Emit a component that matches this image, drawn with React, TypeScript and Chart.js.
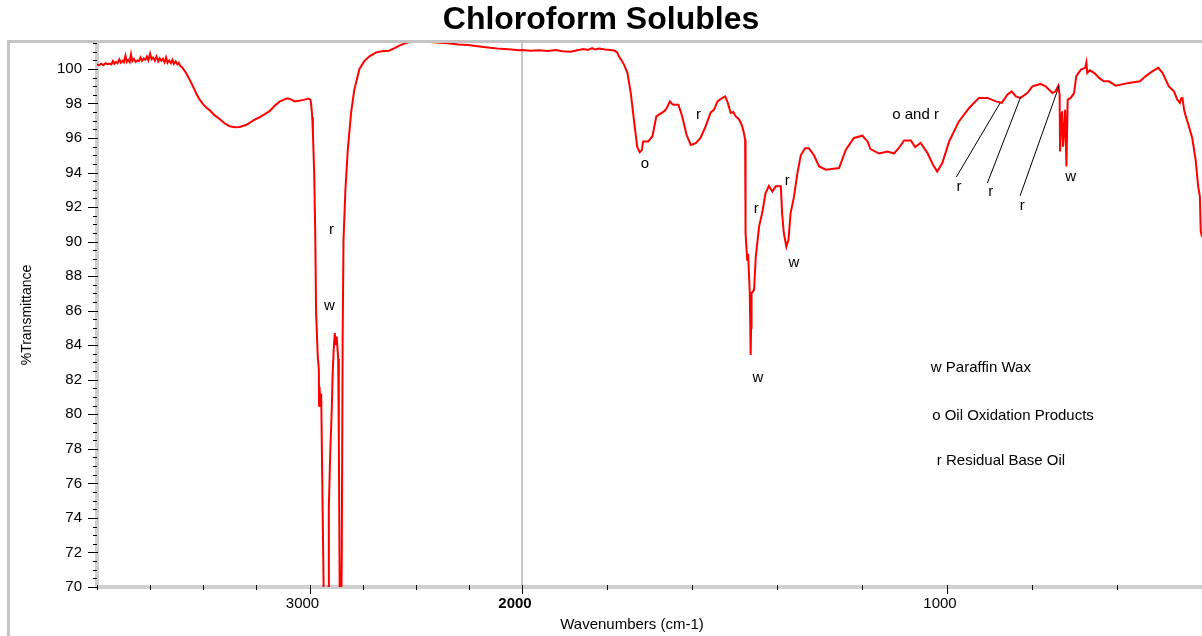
import React, { useEffect, useRef } from 'react';
import { Chart, registerables, LinearScale } from 'chart.js';

Chart.register(...registerables);

// ---------- data (wavenumber cm-1, %T) ----------
const WAVENUMBERS = [
  4000, 3990, 3980, 3970, 3960, 3950, 3940, 3932, 3925, 3918, 3910, 3903, 3895, 3888, 3880, 3874, 3866, 3860,
  3853, 3846, 3840, 3834, 3826, 3818, 3810, 3802, 3795, 3788, 3780, 3772, 3765, 3758, 3750, 3743, 3736, 3728,
  3720, 3712, 3705, 3697, 3690, 3682, 3675, 3668, 3660, 3652, 3645, 3638, 3630, 3622, 3615, 3608, 3600,
  3580, 3563, 3545, 3530, 3516, 3500, 3485, 3469, 3450, 3423, 3400, 3376, 3350, 3329, 3300, 3282, 3260, 3235,
  3210, 3188, 3165, 3141, 3120, 3103, 3085, 3070, 3050, 3023, 3005, 2995, 2991, 2987, 2984, 2978, 2973, 2969,
  2961, 2956, 2955, 2953, 2950, 2945, 2940, 2934, 2930, 2918, 2911, 2909, 2903, 2895, 2891, 2885, 2881, 2876,
  2872, 2865, 2862, 2858, 2856, 2852, 2848, 2844, 2840, 2831, 2820, 2804, 2789, 2765, 2742, 2718, 2700, 2687,
  2658, 2626, 2600, 2577, 2550, 2531, 2480, 2418, 2350, 2300, 2254, 2200, 2150, 2100, 2050, 2012, 2000,
  1980, 1960, 1940, 1920, 1905, 1885, 1870, 1855, 1845, 1835, 1828, 1819, 1805, 1791, 1782, 1776, 1772, 1766,
  1760, 1752, 1744, 1736, 1729, 1723, 1718, 1715, 1703, 1693, 1684, 1666, 1660, 1652, 1646, 1642, 1632, 1623,
  1613, 1603, 1591, 1580, 1568, 1556, 1548, 1540, 1530, 1522, 1517, 1513, 1509, 1503, 1497, 1490, 1483, 1478,
  1475, 1474, 1470, 1468, 1464, 1462, 1461, 1460, 1454, 1450, 1442, 1435, 1427, 1419, 1411, 1403, 1391, 1388,
  1384, 1378, 1373, 1368, 1360, 1352, 1344, 1334, 1325, 1313, 1301, 1285, 1254, 1238, 1219, 1199, 1187, 1180,
  1160, 1140, 1125, 1113, 1101, 1085, 1075, 1062, 1046, 1033, 1023, 1011, 995, 972, 948, 925, 905, 885,
  871, 858, 848, 838, 827, 811, 799, 780, 768, 752, 745, 738, 735, 734, 731, 729, 727, 724,
  722, 719, 716, 709, 701, 696, 685, 675, 672, 670, 664, 654, 642, 631, 619, 603, 572, 546,
  533, 517, 503, 493, 478, 466, 458, 452, 449, 446, 442, 438, 432, 423, 415, 409, 405, 403, 400,
];

const TRANSMITTANCE = [
  100.25, 100.22, 100.3, 100.21, 100.33, 100.27, 100.31, 100.26, 100.46, 100.3, 100.41, 100.33, 100.55, 100.36, 100.47, 100.38, 100.76, 100.41,
  100.52, 100.39, 100.84, 100.44, 100.58, 100.4, 100.49, 100.46, 100.66, 100.47, 100.6, 100.52, 100.71, 100.5, 100.88, 100.56, 100.66, 100.48,
  100.72, 100.44, 100.62, 100.47, 100.58, 100.38, 100.67, 100.36, 100.49, 100.33, 100.52, 100.29, 100.44, 100.27, 100.36, 100.16, 100.1,
  99.75, 99.35, 98.9, 98.5, 98.2, 97.95, 97.75, 97.6, 97.35, 97.1, 96.85, 96.68, 96.62, 96.64, 96.75, 96.88, 97.05, 97.2,
  97.38, 97.55, 97.85, 98.1, 98.22, 98.3, 98.22, 98.12, 98.15, 98.22, 98.28, 98.2, 97.8, 97.2, 96.3, 94.0, 90.5, 85.9,
  83.3, 82.6, 80.5, 81.6, 80.8, 81.2, 76.2, 70.5, 62, 62, 70, 74.6, 77.5, 80.4, 82.4, 84.0, 84.7, 84.0,
  84.5, 83.2, 78.5, 70, 62, 62, 72, 84.3, 90.1, 93.0, 95.3, 97.5, 98.8, 100.0, 100.45, 100.73, 100.85, 100.96,
  101.02, 101.05, 101.2, 101.35, 101.48, 101.55, 101.58, 101.55, 101.48, 101.42, 101.38, 101.3, 101.22, 101.16, 101.12, 101.08, 101.1,
  101.05, 101.08, 101.04, 101.1, 101.02, 101.0, 101.08, 101.15, 101.1, 101.2, 101.12, 101.18, 101.12, 101.1, 101.05, 100.96, 100.73, 100.5,
  100.25, 99.77, 98.6, 96.9, 95.5, 95.17, 95.3, 95.8, 95.8, 96.1, 97.25, 97.54, 97.7, 98.12, 97.95, 97.93, 97.93, 97.25,
  96.2, 95.6, 95.7, 96.0, 96.67, 97.48, 97.64, 98.12, 98.3, 98.41, 98.12, 97.8, 97.45, 97.5, 97.25, 97.1, 96.77, 96.3,
  95.9, 90.5, 88.9, 89.3, 87.0, 83.44, 85.0, 87.0, 87.2, 89.1, 90.9, 91.65, 92.8, 93.23, 92.9, 93.2, 93.2, 91.65,
  90.5, 89.7, 90.1, 91.65, 92.6, 93.97, 95.0, 95.4, 95.4, 95.0, 94.35, 94.16, 94.26, 95.32, 96.0, 96.13, 95.8, 95.36,
  95.1, 95.22, 95.1, 95.42, 95.86, 95.86, 95.48, 95.71, 95.13, 94.45, 94.06, 94.55, 95.8, 96.96, 97.74, 98.32, 98.32, 98.12,
  98.03, 98.51, 98.7, 98.41, 98.32, 98.6, 98.99, 99.13, 98.99, 98.6, 98.7, 99.03, 98.51, 95.22, 97.2, 97.54, 95.5, 96.5,
  97.64, 94.35, 98.22, 98.32, 98.6, 99.57, 99.96, 100.06, 100.38, 99.77, 99.92, 99.77, 99.48, 99.28, 99.28, 99.03, 99.19, 99.28,
  99.57, 99.86, 100.06, 99.77, 98.99, 98.7, 98.22, 98.03, 98.3, 98.32, 97.6, 97.25, 96.77, 96.0, 94.74, 93.2, 92.61, 90.59, 90.3,
];

// ---------- axes ----------
const X_MAX = 4000;
const X_MIN = 400;
const X_BREAK = 2000; // scale expands x2 below this wavenumber
const X_EXPAND = 2;
const X_TICKS = [4000, 3750, 3500, 3250, 3000, 2750, 2500, 2250, 2000, 1800, 1600, 1400, 1200, 1000, 800, 600, 400];
const X_LABELS = [3000, 2000, 1000];
const Y_MIN = 70;
const Y_MAX = 101.5;
const Y_TICKS = [
  70, 70.5, 71, 71.5, 72, 72.5, 73, 73.5, 74, 74.5, 75, 75.5, 76, 76.5, 77, 77.5, 78, 78.5, 79, 79.5,
  80, 80.5, 81, 81.5, 82, 82.5, 83, 83.5, 84, 84.5, 85, 85.5, 86, 86.5, 87, 87.5, 88, 88.5, 89, 89.5,
  90, 90.5, 91, 91.5, 92, 92.5, 93, 93.5, 94, 94.5, 95, 95.5, 96, 96.5, 97, 97.5, 98, 98.5, 99, 99.5,
  100, 100.5, 101, 101.5,
];
const Y_LABELS = [70, 72, 74, 76, 78, 80, 82, 84, 86, 88, 90, 92, 94, 96, 98, 100];

// ---------- annotations ----------
const ANNOT_TEXT = ['r', 'w', 'o', 'r', 'r', 'r', 'w', 'w', 'o and r', 'r', 'r', 'r', 'w'];
const ANNOT_WN = [2897, 2906, 1711, 1585, 1449, 1376, 1445, 1360, 1074, 972, 897, 823, 709];
const ANNOT_T = [90.68, 86.28, 94.51, 97.35, 91.88, 93.52, 82.1, 88.75, 97.35, 93.19, 92.9, 92.08, 93.77];

const LEADER_FROM_WN = [978, 905, 828];
const LEADER_FROM_T = [93.74, 93.39, 92.65];
const LEADER_TO_WN = [875, 827, 736];
const LEADER_TO_T = [98.03, 98.35, 99.03];

const KEY_TEXT = ['w Paraffin Wax', 'o Oil Oxidation Products', 'r Residual Base Oil'];
const KEY_WN = [1038, 1035, 1024];
const KEY_T = [82.67, 79.9, 77.31];

const FONT = '"Liberation Sans", Arial, Helvetica, sans-serif';

// Piecewise-linear IR wavenumber scale (reversed, x2 expansion below 2000 cm-1)
class IRScale extends LinearScale {
  static id = 'irscale';
  static defaults = {};
  _total() {
    return (X_MAX - X_BREAK) + (X_BREAK - X_MIN) * X_EXPAND;
  }
  getPixelForValue(value: any) {
    if (value === null || value === undefined) return NaN;
    const v = Number(value);
    const u = v >= X_BREAK ? X_MAX - v : (X_MAX - X_BREAK) + (X_BREAK - v) * X_EXPAND;
    return this.getPixelForDecimal(u / this._total());
  }
  getValueForPixel(pixel: number) {
    const u = this.getDecimalForPixel(pixel) * this._total();
    return u <= X_MAX - X_BREAK ? X_MAX - u : X_BREAK - (u - (X_MAX - X_BREAK)) / X_EXPAND;
  }
}
Chart.register(IRScale as any);

const decorPlugin = {
  id: 'irDecor',
  beforeDraw(chart: any) {
    const { ctx, width, height } = chart;
    ctx.save();
    ctx.fillStyle = '#ffffff';
    ctx.fillRect(0, 0, width, height);
    ctx.strokeStyle = '#c4c4c4';
    ctx.lineWidth = 3;
    ctx.beginPath();
    ctx.moveTo(8.5, height + 10);
    ctx.lineTo(8.5, 41.5);
    ctx.lineTo(width + 10, 41.5);
    ctx.stroke();
    ctx.restore();
  },
  afterDraw(chart: any) {
    const { ctx, chartArea } = chart;
    const xs = chart.scales.x;
    const ys = chart.scales.y;
    ctx.save();
    // tick marks
    ctx.strokeStyle = '#000';
    ctx.lineWidth = 1;
    xs.ticks.forEach((t: any) => {
      const px = Math.round(xs.getPixelForValue(t.value)) + 0.5;
      const major = X_LABELS.includes(t.value);
      ctx.beginPath();
      ctx.moveTo(px, chartArea.bottom - 2);
      ctx.lineTo(px, chartArea.bottom + (major ? 7 : 3));
      ctx.stroke();
    });
    ys.ticks.forEach((t: any) => {
      const py = Math.round(ys.getPixelForValue(t.value)) + 0.5;
      const major = Y_LABELS.includes(t.value);
      ctx.beginPath();
      ctx.moveTo(chartArea.left - (major ? 9 : 4), py);
      ctx.lineTo(chartArea.left + (major ? 1 : 0), py);
      ctx.stroke();
    });
    // leader lines
    for (let i = 0; i < LEADER_FROM_WN.length; i++) {
      ctx.beginPath();
      ctx.moveTo(xs.getPixelForValue(LEADER_FROM_WN[i]), ys.getPixelForValue(LEADER_FROM_T[i]));
      ctx.lineTo(xs.getPixelForValue(LEADER_TO_WN[i]), ys.getPixelForValue(LEADER_TO_T[i]));
      ctx.stroke();
    }
    // band labels
    ctx.fillStyle = '#000';
    ctx.font = `15px ${FONT}`;
    ctx.textAlign = 'center';
    ctx.textBaseline = 'middle';
    ANNOT_TEXT.forEach((txt, i) => {
      ctx.fillText(txt, xs.getPixelForValue(ANNOT_WN[i]), ys.getPixelForValue(ANNOT_T[i]));
    });
    ctx.textAlign = 'left';
    KEY_TEXT.forEach((txt, i) => {
      ctx.fillText(txt, xs.getPixelForValue(KEY_WN[i]), ys.getPixelForValue(KEY_T[i]));
    });
    // x axis title
    ctx.textAlign = 'center';
    ctx.fillText('Wavenumbers (cm-1)', 632, 625);
    ctx.restore();
  },
};

export default function App() {
  const ref = useRef<HTMLCanvasElement>(null);
  useEffect(() => {
    if (!ref.current) return;
    const chart = new Chart(ref.current, {
      type: 'line',
      data: {
        datasets: [
          {
            label: 'Chloroform Solubles',
            data: WAVENUMBERS.map((wn, i) => ({ x: wn, y: TRANSMITTANCE[i] })),
            borderColor: '#ff0000',
            borderWidth: 2,
            pointRadius: 0,
            tension: 0,
            fill: false,
          },
        ],
      },
      options: {
        animation: false,
        responsive: false,
        maintainAspectRatio: false,
        layout: { padding: 0 },
        plugins: {
          legend: { display: false },
          tooltip: { enabled: false },
          title: {
            display: true,
            text: 'Chloroform Solubles',
            color: '#000',
            font: { family: FONT, size: 32, weight: 'bold' },
            padding: { top: 1, bottom: 3.6 },
          },
        },
        scales: {
          x: {
            type: 'irscale' as any,
            min: X_MIN,
            max: X_MAX,
            afterBuildTicks: (scale: any) => {
              scale.ticks = X_TICKS.map((v) => ({ value: v }));
            },
            afterFit: (scale: any) => {
              scale.height = 49;
              scale.paddingLeft = 0;
              scale.paddingRight = 0;
            },
            grid: {
              display: true,
              drawTicks: false,
              drawOnChartArea: true,
              color: (c: any) => (c.tick && c.tick.value === X_BREAK ? '#c8c8c8' : 'rgba(0,0,0,0)'),
              lineWidth: 2,
            },
            border: { display: true, color: '#cfcfcf', width: 4 },
            ticks: {
              autoSkip: false,
              maxRotation: 0,
              minRotation: 0,
              padding: 8,
              labelOffset: -7,
              color: '#000',
              font: (c: any) => ({
                family: FONT,
                size: 15,
                weight: c.tick && c.tick.value === X_BREAK ? 'bold' : 'normal',
              }),
              callback: (v: any) => (X_LABELS.includes(Number(v)) ? String(v) : ''),
            },
          },
          y: {
            type: 'linear',
            min: Y_MIN,
            max: Y_MAX,
            afterBuildTicks: (scale: any) => {
              scale.ticks = Y_TICKS.map((v) => ({ value: v }));
            },
            afterFit: (scale: any) => {
              scale.width = 97;
              scale.paddingTop = 0;
              scale.paddingBottom = 0;
            },
            grid: { display: false, drawTicks: false },
            border: { display: true, color: '#cfcfcf', width: 4 },
            ticks: {
              autoSkip: false,
              padding: 15,
              color: '#000',
              font: { family: FONT, size: 15 },
              callback: (v: any) => (Y_LABELS.includes(Number(v)) ? String(v) : ''),
            },
            title: {
              display: true,
              text: '%Transmittance',
              color: '#000',
              font: { family: FONT, size: 14 },
              padding: { top: 18.6, bottom: 0 },
            },
          },
        },
      } as any,
      plugins: [decorPlugin],
    });
    return () => chart.destroy();
  }, []);

  return (
    <div style={{ position: 'fixed', left: 0, top: 0, width: 1202, height: 636, background: '#fff' }}>
      <canvas ref={ref} width={1202} height={636} style={{ display: 'block', width: 1202, height: 636 }} />
    </div>
  );
}
